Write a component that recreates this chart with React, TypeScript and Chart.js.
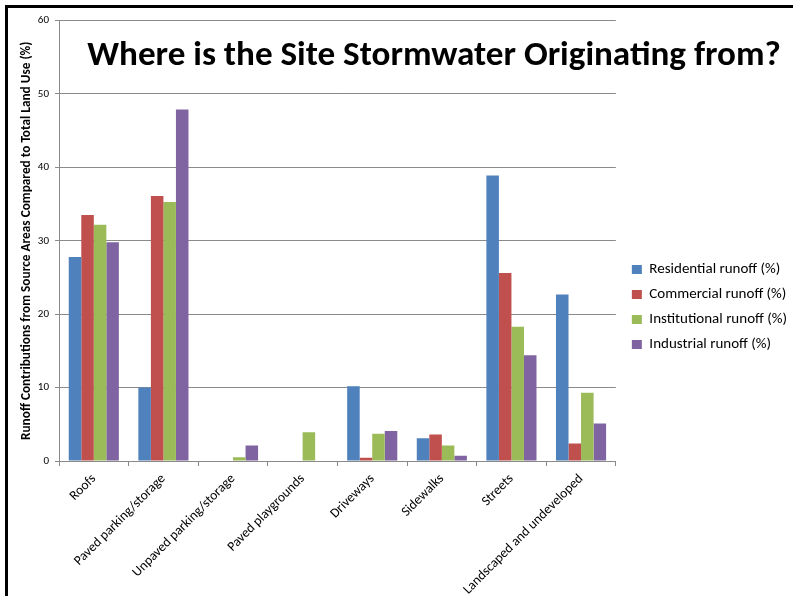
import React, { useEffect, useRef } from "react";
import { Chart, registerables } from "chart.js";

Chart.register(...registerables);

const categories = [
  "Roofs",
  "Paved parking/storage",
  "Unpaved parking/storage",
  "Paved playgrounds",
  "Driveways",
  "Sidewalks",
  "Streets",
  "Landscaped and undeveloped",
];
const seriesNames = [
  "Residential runoff (%)",
  "Commercial runoff (%)",
  "Institutional runoff (%)",
  "Industrial runoff (%)",
];
const residential = [27.8, 10.0, 0, 0, 10.2, 3.1, 38.9, 22.7];
const commercial = [33.5, 36.1, 0, 0, 0.45, 3.6, 25.6, 2.4];
const institutional = [32.2, 35.3, 0.5, 3.9, 3.7, 2.1, 18.3, 9.3];
const industrial = [29.8, 47.9, 2.1, 0, 4.1, 0.7, 14.4, 5.1];
const seriesColors = ["#4F81BD", "#C0504D", "#9BBB59", "#8064A2"];
const yMin = 0;
const yMax = 60;
const yStep = 10;
const chartTitle = "Where is the Site Stormwater Originating from?";
const yAxisTitle = "Runoff Contributions from Source Areas Compared to Total Land Use (%)";

const FONT = "Calibri, Carlito, Lato, sans-serif";
const GRID = "#8a8a8a";
const CANVAS_W = 789;
const CANVAS_H = 588;

const titlePlugin = {
  id: "slideTitle",
  afterDraw(chart: any) {
    const ctx = chart.ctx;
    ctx.save();
    const targetW = 694;
    ctx.font = `bold 30px ${FONT}`;
    const w = ctx.measureText(chartTitle).width;
    const size = (30 * targetW) / w;
    ctx.font = `bold ${size}px ${FONT}`;
    ctx.fillStyle = "#000000";
    ctx.textAlign = "center";
    ctx.textBaseline = "alphabetic";
    ctx.fillText(chartTitle, 426, 57);
    ctx.restore();
  },
};

export default function App() {
  const ref = useRef<HTMLCanvasElement | null>(null);
  useEffect(() => {
    if (!ref.current) return;
    const data = [residential, commercial, institutional, industrial];
    const chart = new Chart(ref.current, {
      type: "bar",
      data: {
        labels: categories,
        datasets: seriesNames.map((name, i) => ({
          label: name,
          data: data[i],
          backgroundColor: seriesColors[i],
          borderWidth: 0,
          categoryPercentage: 0.72,
          barPercentage: 1,
        })),
      },
      options: {
        responsive: false,
        animation: false,
        devicePixelRatio: 1,
        layout: { padding: { top: 10, left: 0, right: 0, bottom: 0 } },
        plugins: {
          tooltip: { enabled: false },
          legend: {
            position: "right",
            align: "center",
            maxWidth: 300,
            labels: {
              boxWidth: 10,
              boxHeight: 9,
              padding: 10,
              color: "#000000",
              font: { family: FONT, size: 15 },
            },
          },
        },
        scales: {
          x: {
            grid: {
              drawOnChartArea: false,
              drawTicks: true,
              tickLength: 5,
              color: GRID,
              offset: true,
            },
            border: { color: GRID, width: 1 },
            ticks: {
              minRotation: 45,
              maxRotation: 45,
              autoSkip: false,
              padding: 5,
              color: "#000000",
              font: { family: FONT, size: 13.5 },
            },
            afterFit(scale: any) {
              scale.height = 135;
            },
          },
          y: {
            min: yMin,
            max: yMax,
            ticks: {
              stepSize: yStep,
              padding: 6,
              color: "#000000",
              font: { family: FONT, size: 11 },
            },
            grid: { color: GRID, tickLength: 4 },
            border: { color: GRID, width: 1 },
            title: {
              display: true,
              text: yAxisTitle,
              color: "#000000",
              font: { family: FONT, size: 13.3, weight: "bold" },
              padding: { top: 11, bottom: 0 },
            },
            afterFit(scale: any) {
              scale.width = 51;
            },
          },
          gap: {
            type: "linear",
            position: "right",
            display: true,
            grid: { display: false, drawTicks: false },
            border: { display: false },
            ticks: { display: false },
            afterFit(scale: any) {
              scale.width = 6;
            },
          },
        },
      },
      plugins: [titlePlugin],
    } as any);
    return () => chart.destroy();
  }, []);

  return (
    <div
      style={{
        position: "fixed",
        left: 0,
        top: 0,
        width: 793,
        height: 596,
        overflow: "hidden",
        background: "#ffffff",
      }}
    >
      <div
        style={{
          position: "absolute",
          left: 5,
          top: 5,
          width: 820,
          height: 620,
          borderLeft: "3px solid #000",
          borderTop: "3px solid #000",
        }}
      />
      <canvas
        ref={ref}
        width={CANVAS_W}
        height={CANVAS_H}
        style={{ position: "absolute", left: 8, top: 8, width: CANVAS_W, height: CANVAS_H }}
      />
    </div>
  );
}
